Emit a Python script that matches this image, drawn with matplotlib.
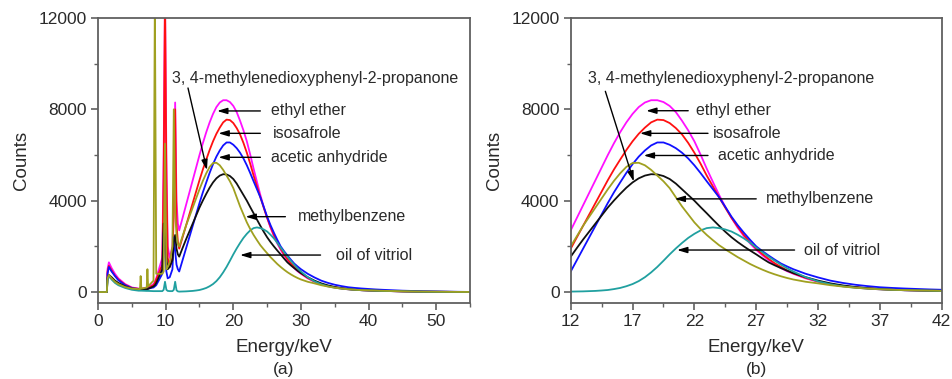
import matplotlib
matplotlib.use("Agg")
import matplotlib.pyplot as plt
from matplotlib.ticker import MultipleLocator, FixedLocator

plt.rcParams["font.family"] = ["Liberation Sans", "DejaVu Sans"]

# ----------------------------
# data (energy in keV, counts)
# ----------------------------
E_LOW = [0, 1.3, 1.4, 1.6, 2.0, 2.5, 3.0, 4.0, 5.0, 6.0, 6.2, 6.3, 6.4, 7.2, 7.3, 7.4,
         8.2, 8.4, 8.6, 9.5, 9.7, 9.9, 10.1, 10.3, 10.6, 11.0, 11.2, 11.4, 11.6, 11.8]
E_MAIN = [12, 12.5, 13, 13.5, 14, 14.5, 15, 15.5, 16, 16.5, 17, 17.5, 18, 18.5, 19, 19.5,
          20, 20.5, 21, 21.5, 22, 22.5, 23, 23.5, 24, 24.5, 25, 25.5, 26, 26.5, 27, 27.5,
          28, 28.5, 29, 29.5, 30, 31, 32, 33, 34, 35, 36, 37, 38, 39, 40, 41, 42]
E_TAIL = [45, 48, 52, 55]

ether_low = [0, 0, 1000, 1300, 1050, 800, 600, 350, 200, 150, 150, 150, 150, 180, 190, 200,
             350, 450, 600, 1500, 6000, 13000, 6000, 2000, 1500, 2000, 4000, 8300, 4000, 3000]
ether_main = [2700, 3250, 3800, 4350, 4900, 5450, 6000, 6520, 7000, 7430, 7800, 8100, 8300,
              8400, 8400, 8320, 8150, 7880, 7500, 7080, 6600, 6020, 5400, 4820, 4250, 3730,
              3250, 2820, 2450, 2130, 1850, 1610, 1400, 1210, 1050, 910, 800,
              600, 450, 340, 260, 200, 150, 120, 100, 80, 70, 60, 50]
ether_tail = [30, 15, 8, 3]

isosafrole_low = [0, 0, 900, 1150, 950, 720, 550, 320, 180, 140, 140, 140, 140, 160, 170, 180,
                  300, 400, 550, 1200, 5000, 13000, 5000, 1500, 1100, 1500, 3500, 8000, 3000, 2200]
isosafrole_main = [1900, 2400, 2900, 3400, 3900, 4400, 4900, 5370, 5800, 6220, 6600, 6930, 7200,
                   7430, 7550, 7530, 7400, 7180, 6900, 6530, 6100, 5620, 5100, 4620, 4150, 3690,
                   3250, 2860, 2500, 2180, 1900, 1660, 1450, 1260, 1100, 950, 820,
                   620, 470, 350, 270, 210, 165, 130, 105, 85, 72, 62, 52]
isosafrole_tail = [30, 15, 8, 3]

acetic_low = [0, 0, 800, 1100, 900, 700, 520, 300, 170, 130, 130, 130, 130, 140, 140, 150,
              200, 250, 300, 800, 2600, 1800, 900, 600, 650, 1000, 2400, 1800, 1200, 1000]
acetic_main = [900, 1400, 1900, 2400, 2900, 3400, 3900, 4370, 4800, 5220, 5600, 5930, 6200,
               6420, 6550, 6550, 6450, 6300, 6100, 5850, 5550, 5210, 4850, 4500, 4150, 3730,
               3300, 2930, 2600, 2290, 2000, 1790, 1600, 1420, 1250, 1120, 1000,
               800, 640, 500, 400, 320, 260, 210, 180, 155, 135, 115, 100]
acetic_tail = [60, 35, 15, 5]

mdp2p_low = [0, 0, 600, 750, 600, 450, 350, 220, 150, 130, 130, 700, 150, 200, 1000, 250,
             500, 13000, 800, 800, 900, 6500, 1000, 1100, 1300, 2000, 8000, 3500, 2500, 2100]
mdp2p_main = [2000, 2450, 2900, 3300, 3700, 4100, 4500, 4870, 5200, 5480, 5650, 5660, 5550,
              5350, 5100, 4850, 4550, 4150, 3750, 3400, 3050, 2760, 2500, 2270, 2050, 1870,
              1700, 1530, 1380, 1230, 1100, 980, 870, 775, 690, 615, 550,
              450, 380, 300, 240, 190, 150, 120, 100, 85, 75, 65, 55]
mdp2p_tail = [35, 20, 8, 3]

methylbenzene_low = [0, 0, 600, 750, 650, 500, 400, 250, 150, 120, 120, 120, 120, 130, 130, 140,
                     250, 300, 400, 1000, 3000, 3000, 1500, 1000, 1100, 1400, 2200, 2500, 1900, 1650]
methylbenzene_main = [1550, 1930, 2300, 2650, 3000, 3350, 3700, 4010, 4300, 4570, 4800, 4980,
                      5100, 5160, 5150, 5080, 4950, 4750, 4500, 4250, 4000, 3720, 3450, 3170,
                      2900, 2640, 2400, 2190, 2000, 1820, 1650, 1470, 1300, 1170, 1050, 935, 830,
                      650, 500, 380, 290, 220, 170, 130, 100, 80, 70, 60, 50]
methylbenzene_tail = [30, 15, 8, 3]

vitriol_low = [0, 0, 500, 700, 550, 400, 300, 180, 100, 60, 60, 60, 60, 50, 50, 50,
               40, 40, 40, 40, 100, 450, 100, 50, 40, 40, 100, 450, 80, 30]
vitriol_main = [20, 25, 30, 40, 50, 68, 90, 130, 180, 255, 350, 480, 650, 860, 1100, 1370,
                1650, 1910, 2150, 2370, 2550, 2700, 2800, 2830, 2800, 2740, 2650, 2510, 2350,
                2160, 1950, 1750, 1550, 1370, 1200, 1040, 900,
                650, 470, 340, 250, 190, 150, 120, 100, 80, 70, 60, 50]
vitriol_tail = [30, 15, 8, 3]

SERIES = [
    ("ethyl ether", ether_low, ether_main, ether_tail, "#ff10ff"),
    ("isosafrole", isosafrole_low, isosafrole_main, isosafrole_tail, "#ff1010"),
    ("acetic anhydride", acetic_low, acetic_main, acetic_tail, "#1010ff"),
    ("methylbenzene", methylbenzene_low, methylbenzene_main, methylbenzene_tail, "#101010"),
    ("oil of vitriol", vitriol_low, vitriol_main, vitriol_tail, "#20a0a0"),
    ("3, 4-methylenedioxyphenyl-2-propanone", mdp2p_low, mdp2p_main, mdp2p_tail, "#a0a020"),
]

# label text position and arrow (start, end) per panel, in data coords
NOTES_A = [
    ("3, 4-methylenedioxyphenyl-2-propanone", (10.9, 9370), (13.3, 8935), (16.1, 5340)),
    ("ethyl ether", (25.5, 7930), (24.0, 7930), (17.6, 7930)),
    ("isosafrole", (25.9, 6950), (24.0, 6950), (17.8, 6950)),
    ("acetic anhydride", (25.6, 5900), (24.0, 5900), (17.8, 5900)),
    ("methylbenzene", (29.6, 3300), (27.7, 3300), (21.8, 3300)),
    ("oil of vitriol", (35.2, 1620), (32.9, 1620), (21.0, 1620)),
]
NOTES_B = [
    ("3, 4-methylenedioxyphenyl-2-propanone", (13.4, 9370), (14.8, 8790), (17.1, 4840)),
    ("ethyl ether", (22.1, 7940), (21.5, 7940), (18.1, 7940)),
    ("isosafrole", (23.5, 6950), (23.1, 6950), (17.6, 6950)),
    ("acetic anhydride", (23.9, 5980), (23.1, 5980), (17.9, 5980)),
    ("methylbenzene", (27.8, 4080), (27.0, 4080), (20.4, 4080)),
    ("oil of vitriol", (30.9, 1840), (30.1, 1840), (20.6, 1840)),
]

AXIS_GREY = "#606060"
TEXT_COL = "#2a2a2a"


def style_axes(ax, xlim, xmajor, xminor):
    ax.set_xlim(*xlim)
    ax.set_ylim(-480, 12000)
    ax.xaxis.set_major_locator(FixedLocator(xmajor))
    ax.xaxis.set_minor_locator(FixedLocator(xminor))
    ax.yaxis.set_major_locator(MultipleLocator(4000))
    ax.yaxis.set_minor_locator(MultipleLocator(2000))
    for sp in ax.spines.values():
        sp.set_color(AXIS_GREY)
        sp.set_linewidth(1.3)
    ax.tick_params(which="major", direction="out", length=5, width=1.2, color=AXIS_GREY,
                   labelsize=12.5, labelcolor=TEXT_COL, pad=3)
    ax.tick_params(which="minor", direction="out", length=3, width=1.0, color=AXIS_GREY)
    ax.set_ylabel("Counts", fontsize=13.5, color=TEXT_COL, labelpad=6)
    ax.set_xlabel("Energy/keV", fontsize=13.5, color=TEXT_COL, labelpad=7)


def annotate(ax, notes):
    for text, txy, start, end in notes:
        ax.text(txy[0], txy[1], text, fontsize=11.5, color=TEXT_COL, va="center", ha="left")
        ax.annotate("", xy=end, xytext=start,
                    arrowprops=dict(arrowstyle="-|>,head_length=0.6,head_width=0.18",
                                    color="k", lw=1.0, shrinkA=0, shrinkB=0))


fig = plt.figure(figsize=(9.52, 3.79), dpi=100)
ax_a = fig.add_axes([0.103, 0.2005, 0.3907, 0.752])
ax_b = fig.add_axes([0.5995, 0.2005, 0.3897, 0.752])

for name, low, main, tail, col in SERIES:
    ax_a.plot(E_LOW + E_MAIN + E_TAIL, low + main + tail, color=col, lw=1.3)
    ax_b.plot(E_MAIN, main, color=col, lw=1.3)

style_axes(ax_a, (0, 55), list(range(0, 56, 10)), list(range(5, 56, 10)))
style_axes(ax_b, (12, 42), list(range(12, 43, 5)), [x + 2.5 for x in range(12, 42, 5)])
annotate(ax_a, NOTES_A)
annotate(ax_b, NOTES_B)

fig.text(0.2983, 0.025, "(a)", fontsize=12.5, color=TEXT_COL, ha="center", va="center")
fig.text(0.7943, 0.025, "(b)", fontsize=12.5, color=TEXT_COL, ha="center", va="center")

fig.savefig("out.png", dpi=100)
